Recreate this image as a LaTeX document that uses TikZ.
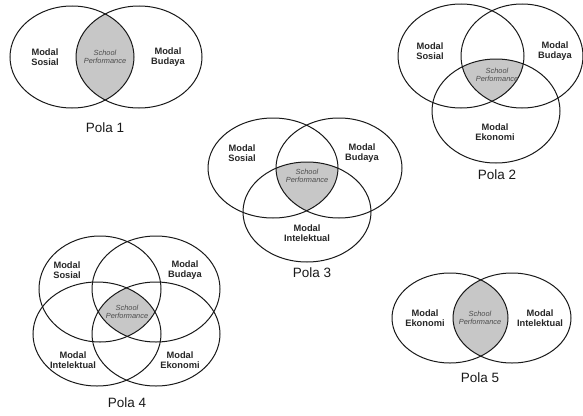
\documentclass[tikz,border=0pt]{standalone}
\usepackage{fontspec}
\setmainfont{Liberation Sans}
\begin{document}
\begin{tikzpicture}[x=1pt,y=-1pt,
  ring/.style={draw=black!90,line width=1pt},
  core/.style={fill=black!22},
  modal/.style={font=\fontsize{9.3}{10}\selectfont\bfseries,align=center,text=black!85},
  perf/.style={font=\fontsize{7.4}{8.4}\selectfont\itshape,align=center,text=black!70},
  pola/.style={font=\fontsize{13.5}{15}\selectfont,text=black!90}]
\useasboundingbox (0,0) rectangle (583,415);
\def\E#1#2#3#4{(#1,#2) ellipse [x radius=#3pt, y radius=#4pt]}

% ---------- Pola 1 ----------
\begin{scope}
  \clip \E{72}{57}{62}{51};
  \fill[core] \E{139}{57}{63}{51};
\end{scope}
\draw[ring] \E{72}{57}{62}{51};
\draw[ring] \E{139}{57}{63}{51};
\node[modal] (p1a) at (45,57) {Modal\\Sosial};
\node[modal] (p1b) at (168,57) {Modal\\Budaya};
\node[perf] (p1s) at (105,57) {School\\Performance};
\node[pola] (p1) at (105,128) {Pola 1};

% ---------- Pola 2 ----------
\begin{scope}
  \clip \E{461}{56}{63}{52};
  \clip \E{522}{56}{61}{52};
  \fill[core] \E{496}{111}{64}{52};
\end{scope}
\draw[ring] \E{461}{56}{63}{52};
\draw[ring] \E{522}{56}{61}{52};
\draw[ring] \E{496}{111}{64}{52};
\node[modal] (p2a) at (430,51) {Modal\\Sosial};
\node[modal] (p2b) at (555,51) {Modal\\Budaya};
\node[modal] (p2c) at (495,132) {Modal\\Ekonomi};
\node[perf] (p2s) at (497,75) {School\\Performance};
\node[pola] (p2) at (497,175) {Pola 2};

% ---------- Pola 3 ----------
\begin{scope}
  \clip \E{273}{168}{65}{50};
  \clip \E{339}{168}{63}{50};
  \fill[core] \E{307}{212}{64}{50};
\end{scope}
\draw[ring] \E{273}{168}{65}{50};
\draw[ring] \E{339}{168}{63}{50};
\draw[ring] \E{307}{212}{64}{50};
\node[modal] (p3a) at (242,153) {Modal\\Sosial};
\node[modal] (p3b) at (362,153) {Modal\\Budaya};
\node[modal] (p3c) at (307,233) {Modal\\Intelektual};
\node[perf] (p3s) at (307,176) {School\\Performance};
\node[pola] (p3) at (312,273) {Pola 3};

% ---------- Pola 4 ----------
\begin{scope}
  \clip \E{100}{289}{61}{53};
  \clip \E{156}{289}{64}{53};
  \clip \E{97}{334}{64}{52};
  \fill[core] \E{156}{334}{64}{52};
\end{scope}
\draw[ring] \E{100}{289}{61}{53};
\draw[ring] \E{156}{289}{64}{53};
\draw[ring] \E{97}{334}{64}{52};
\draw[ring] \E{156}{334}{64}{52};
\node[modal] (p4a) at (67,270) {Modal\\Sosial};
\node[modal] (p4b) at (185,270) {Modal\\Budaya};
\node[modal] (p4c) at (73,360) {Modal\\Intelektual};
\node[modal] (p4d) at (180,360) {Modal\\Ekonomi};
\node[perf] (p4s) at (127,312) {School\\Performance};
\node[pola] (p4) at (127,403) {Pola 4};

% ---------- Pola 5 ----------
\begin{scope}
  \clip \E{450}{318}{58}{45};
  \fill[core] \E{512}{318}{59}{45};
\end{scope}
\draw[ring] \E{450}{318}{58}{45};
\draw[ring] \E{512}{318}{59}{45};
\node[modal] (p5a) at (425,318) {Modal\\Ekonomi};
\node[modal] (p5b) at (540,318) {Modal\\Intelektual};
\node[perf] (p5s) at (480,318) {School\\Performance};
\node[pola] (p5) at (480,378) {Pola 5};
\end{tikzpicture}
\end{document}
